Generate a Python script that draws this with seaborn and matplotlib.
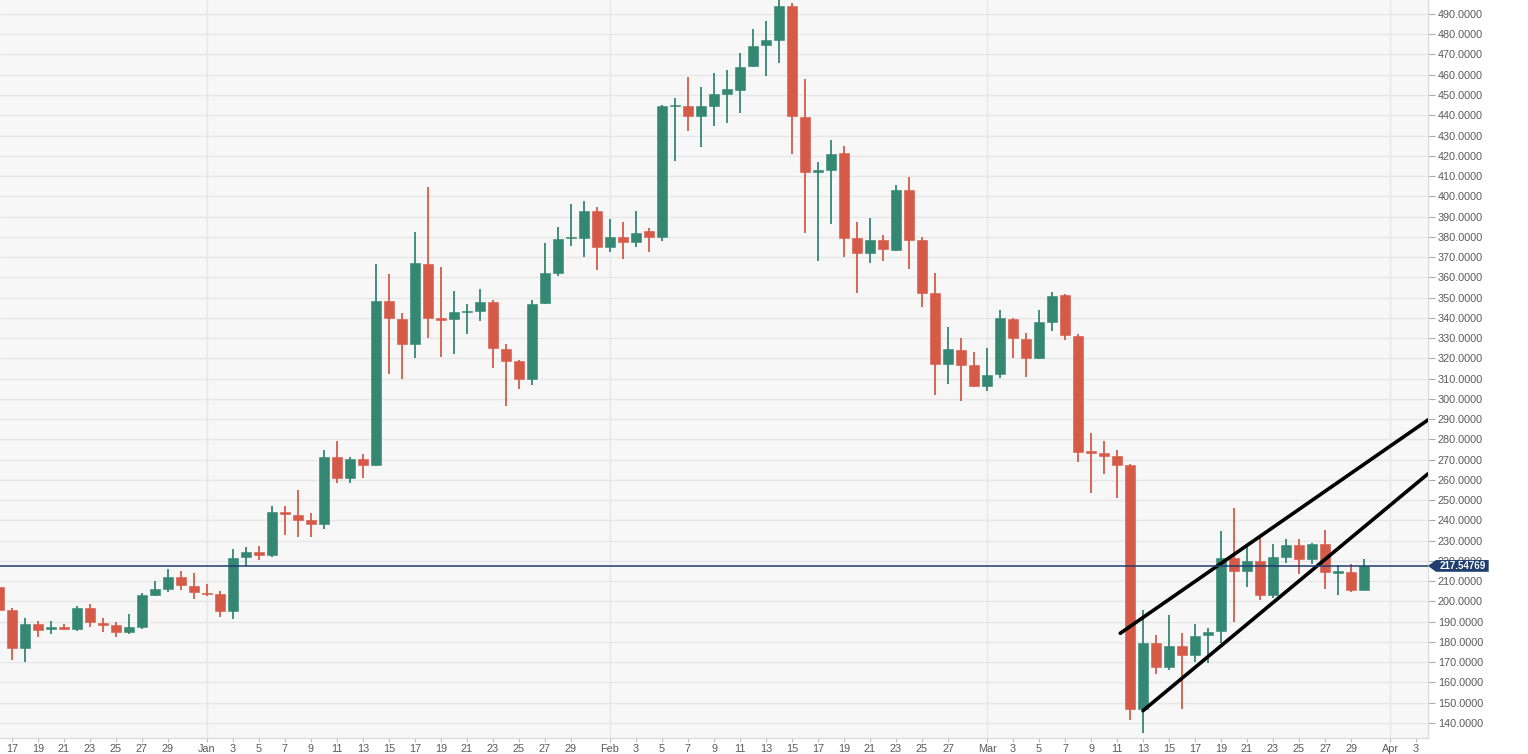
import numpy as np
import pandas as pd
import seaborn as sns
import matplotlib.pyplot as plt
import matplotlib.dates as mdates
from matplotlib.patches import Polygon
from matplotlib.transforms import blended_transform_factory

# daily candles, 2019-12-16 .. 2020-03-30
first_day = "2019-12-16"
opens = [207, 196, 177, 189, 186.5, 187.5, 186.5, 197, 189.5, 188.5, 185, 187.5, 203, 206, 212, 207.5,
         204.3, 203.5, 195.5, 222, 224.5, 223, 244, 242.5, 240, 238, 271.5, 261, 270.5, 267.5, 348.5, 339.5,
         327, 366.5, 339.5, 339.5, 342.8, 343.5, 348, 324.5, 318.5, 310, 347.5, 362, 379.2, 379.5, 392.5,
         375, 380, 377.5, 383, 380, 444.5, 444.5, 439.5, 444.5, 450.5, 452.5, 464.5, 474.5, 477, 494, 439,
         412, 413, 421.5, 379.5, 372, 378.5, 373.5, 403, 378.5, 352.5, 317, 324, 316.5,
         306.5, 312.5, 339.5, 329.5, 320, 338, 351.5, 331, 274.3, 273.5, 272, 267.5, 147, 179.5, 167.5, 178,
         173.5, 183.5, 185.5, 221.5, 215, 220, 203, 222, 228, 221, 228.5, 214.2, 214.5, 205.5]
highs = [209, 197, 192, 190.5, 190.5, 189, 198, 198.5, 192, 190, 194, 204, 210, 216, 215, 214,
         208.5, 205, 226, 227, 227.5, 247, 247, 255, 243.5, 275, 279, 271.5, 273, 366.5, 361.5, 342.5,
         382.5, 404.5, 365, 353.5, 347, 354, 349, 327, 319, 349, 377, 385, 396, 397.5, 394.5,
         389, 387.5, 392.5, 384.5, 445, 448.5, 459, 454, 461, 462.5, 470.5, 482.5, 486.5, 497, 495.5, 458,
         417, 428, 425, 387.5, 389.5, 381, 405.5, 409.5, 380, 362, 335.5, 330, 323,
         325, 344, 340, 332.5, 344, 353, 352, 332, 283, 279, 275, 268, 196, 183.5, 193.5, 184.5,
         189, 187, 235, 246, 227, 231.5, 228.5, 231, 231, 229, 235.5, 218, 218.5, 221]
lows = [194, 171, 170, 182.5, 184, 186, 185.5, 187.5, 185, 182.5, 184, 186.5, 202.5, 204.5, 205.5, 201,
        202.5, 192.5, 191.5, 217.5, 220.5, 222, 233, 232, 232, 236, 258.5, 258.5, 261, 267, 312.5, 310,
        320, 330, 320.5, 322, 332, 338.5, 315, 296.5, 305, 307, 347, 360.5, 375.5, 370, 363.5,
        372.5, 369, 375, 372.5, 378, 417.5, 432, 424.5, 434.5, 436, 441, 464, 459.5, 466, 421, 382,
        368, 386.5, 370, 352.5, 367, 368, 373, 364, 345.5, 302, 307.5, 299, 306,
        304, 310.5, 320, 311, 319.5, 333.5, 329, 269, 253.5, 263, 251, 141.5, 135, 164, 166, 147,
        170, 169.5, 179.5, 190, 207, 200.5, 201.5, 219, 213.5, 218.5, 206, 203, 204.5, 205.5]
closes = [196, 177, 189, 186, 187.5, 186.5, 197, 190, 188.5, 185, 187.5, 203, 206, 212, 208, 204.5,
          203.7, 195.5, 221.5, 224.5, 223, 244, 243, 240, 238, 271.5, 261, 270.5, 267.5, 348.5, 340, 327,
          367, 340, 339, 343, 343.2, 348, 325, 318.5, 310, 347, 362, 379, 379.8, 392.5, 375,
          380, 377.5, 382, 380, 444.5, 445, 439.5, 444.5, 450.5, 453, 464, 474, 477, 494, 439.5, 412,
          413, 421, 379.5, 372, 378.5, 374, 403, 378.5, 352.5, 317, 324.5, 316.5, 306.5,
          312, 340, 330, 320, 338, 351, 331.5, 274, 273.5, 272, 267.5, 147, 179.5, 167.5, 178, 173.5,
          183, 185, 221.5, 215, 220, 203, 222, 228, 221, 228.5, 214.5, 214.8, 205.5, 217.5]
last_price = 217.54769

# drawn channel lines
channel_top_x = ["2020-03-11 06:00", "2020-04-03 22:00"]
channel_top_y = [184.3, 289.6]
channel_bottom_x = ["2020-03-13 00:00", "2020-04-03 22:00"]
channel_bottom_y = [146.1, 263.0]

month_starts = ["2020-01-01", "2020-02-01", "2020-03-01", "2020-04-01"]
tick_dates = ["2019-12-17", "2019-12-19", "2019-12-21", "2019-12-23", "2019-12-25", "2019-12-27", "2019-12-29",
              "2020-01-01", "2020-01-03", "2020-01-05", "2020-01-07", "2020-01-09", "2020-01-11", "2020-01-13",
              "2020-01-15", "2020-01-17", "2020-01-19", "2020-01-21", "2020-01-23", "2020-01-25", "2020-01-27",
              "2020-01-29", "2020-02-01", "2020-02-03", "2020-02-05", "2020-02-07", "2020-02-09", "2020-02-11",
              "2020-02-13", "2020-02-15", "2020-02-17", "2020-02-19", "2020-02-21", "2020-02-23", "2020-02-25",
              "2020-02-27", "2020-03-01", "2020-03-03", "2020-03-05", "2020-03-07", "2020-03-09", "2020-03-11",
              "2020-03-13", "2020-03-15", "2020-03-17", "2020-03-19", "2020-03-21", "2020-03-23", "2020-03-25",
              "2020-03-27", "2020-03-29", "2020-04-01", "2020-04-03"]
tick_labels = ["17", "19", "21", "23", "25", "27", "29",
               "Jan", "3", "5", "7", "9", "11", "13", "15", "17", "19", "21", "23", "25", "27", "29",
               "Feb", "3", "5", "7", "9", "11", "13", "15", "17", "19", "21", "23", "25", "27",
               "Mar", "3", "5", "7", "9", "11", "13", "15", "17", "19", "21", "23", "25", "27", "29",
               "Apr", "3"]
y_ticks = [140, 150, 160, 170, 180, 190, 200, 210, 220, 230, 240, 250, 260, 270, 280, 290, 300,
           310, 320, 330, 340, 350, 360, 370, 380, 390, 400, 410, 420, 430, 440, 450, 460, 470, 480, 490]

green = "#338773"
red = "#d65a48"
grid_c = "#e7e7e7"
navy = "#1f3d6e"

df = pd.DataFrame({"open": opens, "high": highs, "low": lows, "close": closes})
df["date"] = pd.date_range(first_day, periods=len(df), freq="D")
df["x"] = mdates.date2num(df["date"])

sns.set_style("white")
plt.rcParams["font.family"] = ["Liberation Sans", "DejaVu Sans"]

fig = plt.figure(figsize=(15.28, 7.54), dpi=100)
ax = fig.add_axes([0, 16 / 754, 1428 / 1528, 738 / 754])
ax.set_facecolor("#f7f7f7")

up = df["close"] >= df["open"]
colors = np.where(up, green, red)
body_low = df[["open", "close"]].min(axis=1)
body_h = (df["close"] - df["open"]).abs().clip(lower=0.7)

ax.vlines(df["x"], df["low"], df["high"], colors=colors, linewidth=1.3, zorder=2)
ax.bar(df["x"], body_h, bottom=body_low, width=0.74, color=colors,
       edgecolor=colors, linewidth=0.4, zorder=3)

for xs, ys in [(channel_top_x, channel_top_y), (channel_bottom_x, channel_bottom_y)]:
    line_df = pd.DataFrame({"x": mdates.date2num(pd.to_datetime(xs)), "y": ys})
    sns.lineplot(data=line_df, x="x", y="y", ax=ax, color="black", linewidth=2.6,
                 estimator=None, sort=False, zorder=4)

ax.axhline(last_price, color=navy, linewidth=1.1, zorder=4)

# grid: horizontal every 10, vertical only at month starts
ax.set_yticks(y_ticks)
ax.yaxis.grid(True, color=grid_c, linewidth=1)
ax.xaxis.grid(False)
for m in month_starts:
    ax.axvline(mdates.date2num(pd.Timestamp(m)), color=grid_c, linewidth=1, zorder=0)

x0 = mdates.date2num(pd.Timestamp("2020-01-01"))
ax.set_xlim(x0 - 15.92, x0 + 93.92)
ax.set_ylim(132.6, 496.9)

ax.set_xticks(mdates.date2num(pd.to_datetime(tick_dates)))
ax.set_xticklabels(tick_labels)
ax.yaxis.tick_right()
ax.set_yticklabels([f"{v:.4f}" for v in y_ticks])
ax.tick_params(axis="y", right=True, length=5, width=0.8, color="#aaaaaa", pad=2,
               labelsize=7.8, labelcolor="#5a5a5a")
ax.tick_params(axis="x", bottom=True, length=3, width=0.8, color="#bbbbbb", pad=1.5,
               labelsize=7.8, labelcolor="#5a5a5a")
ax.set_xlabel("")
ax.set_ylabel("")

for s in ["top", "left"]:
    ax.spines[s].set_visible(False)
for s in ["bottom", "right"]:
    ax.spines[s].set_color("#dcdcdc")
    ax.spines[s].set_linewidth(1)

# last price marker on the price scale (covers the 220 label, as in the source)
tr = blended_transform_factory(ax.transAxes, ax.transData)
hh = 2.9
tag = Polygon([(1.0, last_price), (1.0056, last_price + hh), (1.0425, last_price + hh),
               (1.0425, last_price - hh), (1.0056, last_price - hh)],
              closed=True, transform=tr, facecolor=navy, edgecolor="none",
              clip_on=False, zorder=6)
ax.add_patch(tag)
ax.text(1.0243, last_price, f"{last_price:.5f}", transform=tr, ha="center", va="center",
        color="white", fontsize=7.0, fontweight="bold", clip_on=False, zorder=7)

fig.savefig("out.png", dpi=100, facecolor="white")
